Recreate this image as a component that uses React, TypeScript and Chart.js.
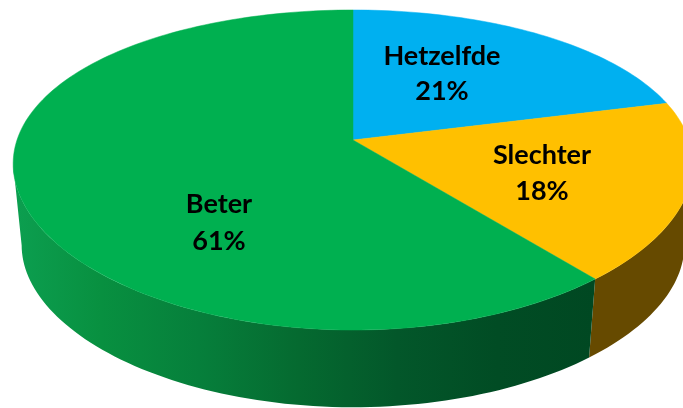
import React, { useEffect, useRef } from "react";
import { Chart, registerables } from "chart.js";

Chart.register(...registerables);

const categories = ["Hetzelfde", "Slechter", "Beter"];
const values = [21, 18, 61];
const topColors = ["#00B0F0", "#FFC000", "#00B050"];
const labelAnchors = [
  [442, 56, 91],
  [542, 155, 191],
  [219, 204, 241],
];

const APEX_X = 353;
const TOP = { y0: 140, a: 336, b: 154.4 };
const BOTTOM = { y0: 222, a: 327.6, b: 150.5 };
const KX = -0.15;
const KY = -0.1875;
const STEPS_PER_RAD = 40;
// Chart.js angles of the outline's widest points: only the wall between them faces the viewer
const SIDE_START = Math.acos(-KX * -1) - Math.PI / 2;
const SIDE_END = 2 * Math.PI - Math.acos(-KX * -1) - Math.PI / 2;

function project(face: { y0: number; a: number; b: number }, angle: number) {
  const theta = angle + Math.PI / 2;
  const u = Math.sin(theta);
  const v = -Math.cos(theta);
  return [APEX_X + (face.a * u) / (1 + KX * v), face.y0 + (face.b * v) / (1 + KY * v)];
}

function arcPoints(face: { y0: number; a: number; b: number }, start: number, end: number) {
  const n = Math.max(2, Math.ceil((end - start) * STEPS_PER_RAD));
  const pts: number[][] = [];
  for (let i = 0; i <= n; i++) pts.push(project(face, start + ((end - start) * i) / n));
  return pts;
}

function sideFill(ctx: CanvasRenderingContext2D, index: number) {
  if (index === 1) return "#664A00";
  if (index === 0) return "#00688F";
  const g = ctx.createLinearGradient(13, 0, 596, 0);
  g.addColorStop(0, "#0C9F50");
  g.addColorStop(0.15, "#089040");
  g.addColorStop(0.32, "#067F3B");
  g.addColorStop(0.49, "#056A30");
  g.addColorStop(0.66, "#03572A");
  g.addColorStop(0.83, "#014C24");
  g.addColorStop(1, "#004822");
  return g;
}

const pie3d = {
  id: "pie3d",
  beforeDatasetDraw(chart: any, args: any) {
    const ctx: CanvasRenderingContext2D = chart.ctx;
    const arcs = args.meta.data;
    const angles = arcs.map((a: any) => a.getProps(["startAngle", "endAngle"], true));

    angles.forEach((p: any, i: number) => {
      const start = Math.max(p.startAngle, SIDE_START);
      const end = Math.min(p.endAngle, SIDE_END);
      if (end <= start) return;
      const upper = arcPoints(TOP, start, end);
      const lower = arcPoints(BOTTOM, start, end).reverse();
      ctx.beginPath();
      [...upper, ...lower].forEach(([x, y], j) => (j ? ctx.lineTo(x, y) : ctx.moveTo(x, y)));
      ctx.closePath();
      ctx.fillStyle = sideFill(ctx, i);
      ctx.fill();
    });

    angles.forEach((p: any, i: number) => {
      const pts = arcPoints(TOP, p.startAngle, p.endAngle);
      ctx.beginPath();
      ctx.moveTo(APEX_X, TOP.y0);
      pts.forEach(([x, y]) => ctx.lineTo(x, y));
      ctx.closePath();
      ctx.fillStyle = topColors[i];
      ctx.strokeStyle = topColors[i];
      ctx.lineWidth = 0.5;
      ctx.fill();
      ctx.stroke();
    });

    const total = values.reduce((s, v) => s + v, 0);
    ctx.fillStyle = "#000000";
    ctx.font = 'bold 27px Lato, "Open Sans", sans-serif';
    ctx.textAlign = "center";
    ctx.textBaseline = "middle";
    categories.forEach((name, i) => {
      const [x, y1, y2] = labelAnchors[i];
      ctx.fillText(name, x, y1);
      ctx.fillText(`${Math.round((values[i] / total) * 100)}%`, x, y2);
    });
    return false;
  },
};

export default function App() {
  const ref = useRef<HTMLCanvasElement>(null);
  useEffect(() => {
    const chart = new Chart(ref.current!, {
      type: "pie",
      data: {
        labels: categories,
        datasets: [{ data: values, backgroundColor: topColors, borderWidth: 0 }],
      },
      options: {
        animation: false,
        responsive: false,
        plugins: { legend: { display: false }, tooltip: { enabled: false } },
      },
      plugins: [pie3d],
    } as any);
    return () => chart.destroy();
  }, []);
  return (
    <div style={{ position: "fixed", left: 0, top: 0, width: 683, height: 408, background: "#fff" }}>
      <canvas ref={ref} width={683} height={408} style={{ display: "block" }} />
    </div>
  );
}
